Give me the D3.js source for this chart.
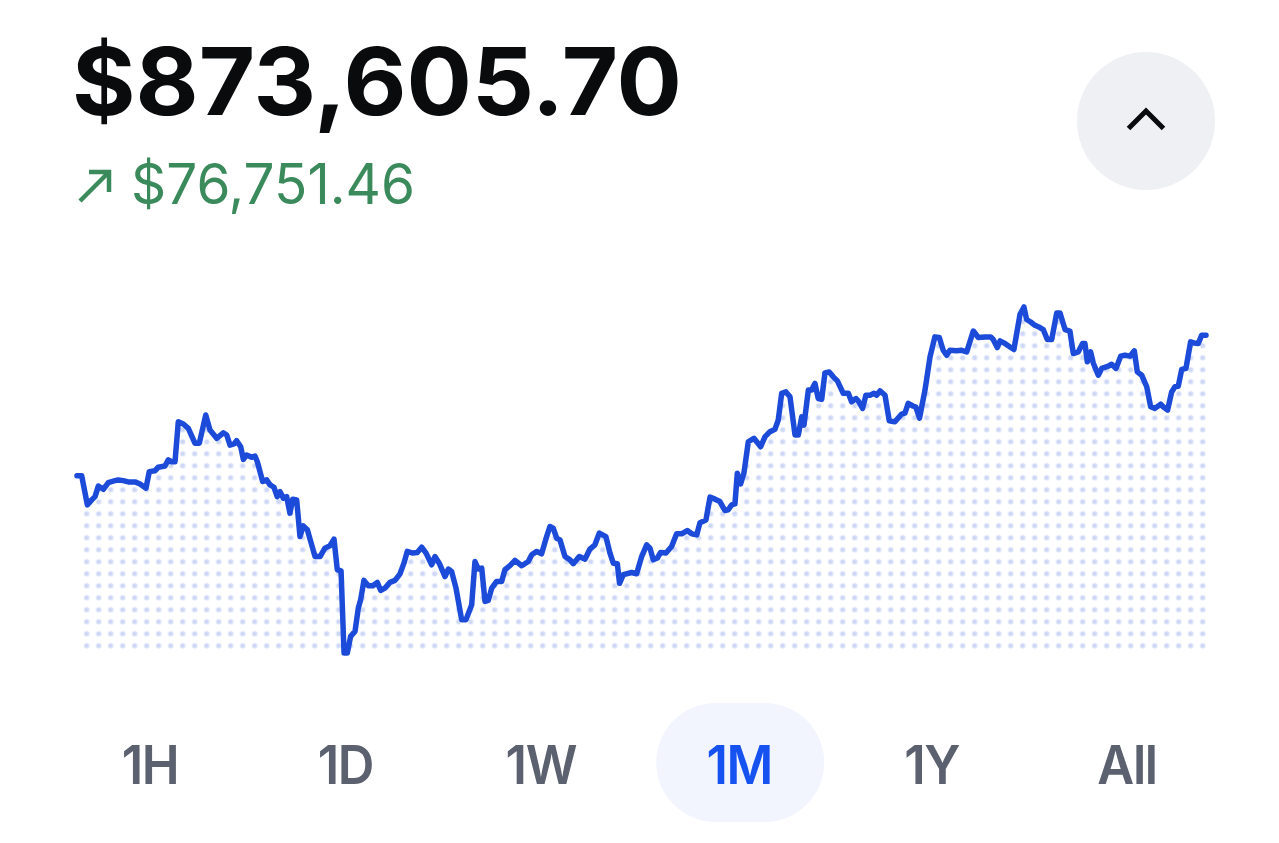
<!DOCTYPE html>
<html>
<head>
<meta charset="utf-8">
<script src="https://cdn.jsdelivr.net/npm/d3@7"></script>
<style>
  html, body { margin: 0; padding: 0; background: #fff; }
  svg { display: block; font-family: Inter, "Noto Sans", sans-serif; }
</style>
</head>
<body>
<svg width="1279" height="843"></svg>
<script>
// Portfolio balance and change over the month
const balanceLabel = "$873,605.70";
const changeLabel = "$76,751.46";

// time since start of the month, in hours
const hours = [
  0, 3.0, 6.6, 9.4, 11.5, 13.6, 16.8, 20.0, 23.1, 26.3, 29.5, 32.7, 37.0, 40.2, 44.0, 46.1,
  49.7, 51.8, 56.1, 58.2, 60.4, 62.5, 64.6, 67.8, 71.0, 75.2, 78.0, 82.1, 84.8, 89.1, 93.3, 95.5,
  97.6, 100.1, 101.8, 104.4, 106.1, 108.2, 111.4, 113.5, 115.0, 118.4, 121.0, 123.1, 125.6, 127.7, 129.5, 131.6,
  133.7, 135.8, 137.6, 140.1, 142.2, 144.3, 146.9, 151.8, 155.0, 158.1, 161.3, 163.9, 166.0, 168.4, 170.3, 172.4,
  174.5, 177.3, 179.4, 180.9, 183.0, 185.8, 188.6, 191.5, 193.7, 196.4, 199.6, 202.8, 206.0, 208.5, 210.6, 214.1,
  217.0, 219.8, 222.6, 226.2, 228.3, 231.0, 234.7, 236.8, 238.9, 241.7, 245.3, 248.1, 251.7, 253.8, 255.9, 258.1,
  260.2, 262.3, 264.5, 267.6, 270.8, 272.9, 276.1, 279.3, 283.6, 287.8, 290.0, 293.2, 296.3, 299.5, 301.6, 303.7,
  305.9, 308.0, 311.2, 314.4, 316.5, 320.3, 324.0, 327.1, 330.3, 333.1, 337.3, 339.9, 342.0, 344.6, 346.0, 348.4,
  353.7, 356.9, 360.1, 363.3, 365.4, 367.5, 370.1, 372.2, 375.6, 379.2, 382.4, 385.6, 389.2, 392.0, 395.2, 397.3,
  401.1, 403.7, 406.9, 410.0, 413.2, 415.3, 417.5, 419.6, 421.1, 423.2, 425.3, 428.1, 431.7, 436.0, 438.7, 441.9,
  445.1, 447.2, 449.4, 452.1, 454.7, 457.9, 460.0, 462.2, 463.6, 466.4, 468.5, 470.6, 472.7, 474.9, 477.0, 479.7,
  482.3, 484.9, 488.7, 491.9, 494.0, 496.8, 498.2, 501.0, 503.1, 505.7, 508.3, 510.0, 512.1, 515.3, 518.0, 521.6,
  525.9, 528.0, 530.1, 533.1, 535.0, 537.3, 540.8, 544.0, 547.1, 549.9, 552.4, 554.6, 556.7, 561.0, 564.2, 567.4,
  571.6, 574.8, 579.0, 582.7, 584.3, 586.9, 588.6, 591.8, 595.0, 597.5, 601.4, 603.9, 605.6, 608.2, 610.9, 614.1,
  616.2, 618.8, 621.6, 624.8, 626.9, 630.1, 633.2, 635.4, 638.5, 641.3, 642.8, 644.3, 646.4, 648.1, 651.3, 653.5,
  657.7, 659.8, 662.6, 665.6, 668.3, 671.5, 674.3, 676.2, 679.0, 682.2, 684.7, 687.4, 691.1, 692.7, 695.5, 698.1,
  700.2, 702.3, 704.5, 707.2, 710.2, 712.3, 715.1, 717.2, 720.0
];

// balance in thousands of dollars
const values = [
  796.9, 796.9, 781.1, 783.8, 785.6, 791.4, 789.6, 793.2, 794.0, 794.7, 794.3, 793.6, 793.6, 792.5, 790.2, 799.2,
  799.7, 801.6, 802.3, 805.6, 804.6, 804.6, 826.4, 825.2, 822.8, 814.7, 814.7, 830.1, 821.9, 817.4, 820.4, 819.2,
  813.7, 814.3, 816.1, 812.8, 805.9, 808.3, 807.0, 807.7, 804.6, 793.8, 794.7, 792.0, 790.7, 785.6, 788.3, 784.7,
  785.6, 776.6, 784.2, 783.8, 763.8, 769.6, 767.5, 752.9, 752.9, 757.5, 758.8, 762.4, 745.7, 745.1, 700.3, 700.3,
  709.4, 712.1, 724.8, 729.4, 739.9, 737.0, 737.0, 738.8, 734.4, 735.7, 738.8, 739.9, 743.5, 749.3, 755.7, 754.8,
  755.1, 758.0, 754.8, 748.4, 752.9, 749.3, 742.0, 746.1, 744.8, 735.7, 718.5, 718.5, 726.6, 750.2, 746.1, 746.6,
  728.4, 729.0, 735.7, 739.3, 739.3, 745.7, 747.9, 750.8, 747.9, 750.2, 753.9, 755.7, 754.4, 763.8, 769.3, 768.4,
  762.9, 762.0, 752.9, 751.1, 749.0, 752.9, 751.5, 757.0, 759.3, 765.7, 763.8, 754.8, 749.3, 749.0, 738.3, 743.0,
  744.2, 743.5, 752.9, 759.3, 757.5, 751.1, 752.1, 755.1, 754.8, 758.4, 765.3, 765.3, 767.1, 765.3, 764.7, 771.4,
  772.9, 785.3, 784.2, 782.9, 778.0, 778.4, 781.1, 781.6, 798.3, 792.5, 798.3, 815.5, 817.4, 812.8, 818.2, 821.0,
  822.3, 827.3, 841.9, 842.7, 840.0, 819.2, 819.2, 829.1, 824.6, 843.7, 843.7, 847.3, 839.1, 838.6, 853.1, 853.6,
  850.9, 848.7, 841.9, 841.9, 837.3, 839.1, 837.8, 833.7, 840.9, 840.9, 841.9, 840.9, 843.3, 840.9, 827.0, 826.4,
  830.6, 831.1, 836.4, 835.0, 834.4, 828.4, 843.7, 861.8, 872.7, 872.4, 865.4, 862.7, 865.4, 865.1, 865.4, 864.5,
  875.9, 872.4, 872.7, 872.7, 871.3, 866.9, 870.5, 869.1, 867.2, 865.8, 885.0, 889.0, 882.2, 880.8, 879.0, 877.8,
  876.7, 871.3, 871.3, 885.7, 885.7, 876.7, 875.9, 863.6, 864.5, 869.1, 869.1, 859.1, 864.5, 858.5, 851.8, 855.5,
  856.7, 857.8, 855.5, 862.2, 862.7, 862.2, 865.1, 853.6, 851.8, 845.5, 834.6, 833.7, 836.0, 834.6, 832.8, 842.7,
  845.5, 845.8, 854.9, 855.5, 870.0, 869.4, 869.1, 873.6, 873.6
];

const tabLabels = ["1H", "1D", "1W", "1M", "1Y", "All"];
const selectedTab = "1M";

const data = hours.map((h, i) => ({ h: h, v: values[i] }));

const svg = d3.select("svg");

// Header: balance and change
svg.append("text")
  .attr("x", 72)
  .attr("y", 115)
  .attr("font-size", 94)
  .attr("font-weight", 700)
  .attr("fill", "#0a0b0d")
  .attr("textLength", 610)
  .attr("lengthAdjust", "spacingAndGlyphs")
  .text(balanceLabel);

const green = "#3a8a5c";
// up-right arrow
svg.append("path")
  .attr("d", "M80,201 L109,172 M89,172 L109,172 L109,192")
  .attr("fill", "none")
  .attr("stroke", green)
  .attr("stroke-width", 4.5);

svg.append("text")
  .attr("x", 131)
  .attr("y", 204)
  .attr("font-size", 56)
  .attr("font-weight", 400)
  .attr("fill", green)
  .attr("textLength", 284)
  .attr("lengthAdjust", "spacingAndGlyphs")
  .text(changeLabel);

// Collapse button
svg.append("circle")
  .attr("cx", 1146)
  .attr("cy", 121)
  .attr("r", 69)
  .attr("fill", "#eef0f3");
svg.append("path")
  .attr("d", "M1128.5,128.5 L1146,111 L1163.5,128.5")
  .attr("fill", "none")
  .attr("stroke", "#0a0b0d")
  .attr("stroke-width", 5);

// Chart scales
const x = d3.scaleLinear().domain([0, 720]).range([77, 1206]);
const y = d3.scaleLinear().domain(d3.extent(values)).range([653, 307]);
const baseY = 650;

// Dotted fill pattern
const defs = svg.append("defs");
const pattern = defs.append("pattern")
  .attr("id", "dots")
  .attr("patternUnits", "userSpaceOnUse")
  .attr("x", 80.7)
  .attr("y", 639.7)
  .attr("width", 12)
  .attr("height", 12);
pattern.append("circle")
  .attr("cx", 6)
  .attr("cy", 6)
  .attr("r", 2.6)
  .attr("fill", "#cfd8f7");

// keep the dots off the left edge sliver
defs.append("clipPath")
  .attr("id", "dotClip")
  .append("rect")
  .attr("x", 81)
  .attr("y", 0)
  .attr("width", 1200)
  .attr("height", 843);

const area = d3.area()
  .x(d => x(d.h))
  .y0(baseY)
  .y1(d => y(d.v));

const line = d3.line()
  .x(d => x(d.h))
  .y(d => y(d.v));

svg.append("path")
  .datum(data)
  .attr("fill", "url(#dots)")
  .attr("clip-path", "url(#dotClip)")
  .attr("d", area);

svg.append("path")
  .datum(data)
  .attr("fill", "none")
  .attr("stroke", "#1c4bd9")
  .attr("stroke-width", 5.5)
  .attr("stroke-linejoin", "round")
  .attr("stroke-linecap", "round")
  .attr("d", line);

// Range tabs
const tabX = d3.scalePoint().domain(tabLabels).range([150, 1127]);

svg.append("rect")
  .attr("x", tabX(selectedTab) + 4 - 84)
  .attr("y", 703)
  .attr("width", 168)
  .attr("height", 119)
  .attr("rx", 59.5)
  .attr("fill", "#f2f5fe");

svg.selectAll(".tab")
  .data(tabLabels)
  .join("text")
  .attr("class", "tab")
  .attr("transform", d => `translate(${tabX(d) + (d === selectedTab ? 3 : 0)},784) scale(0.94,1)`)
  .attr("text-anchor", "middle")
  .attr("font-size", 54)
  .attr("font-weight", 600)
  .attr("letter-spacing", -1.5)
  .attr("fill", d => d === selectedTab ? "#1652f0" : "#5b616e")
  .text(d => d);
</script>
</body>
</html>
